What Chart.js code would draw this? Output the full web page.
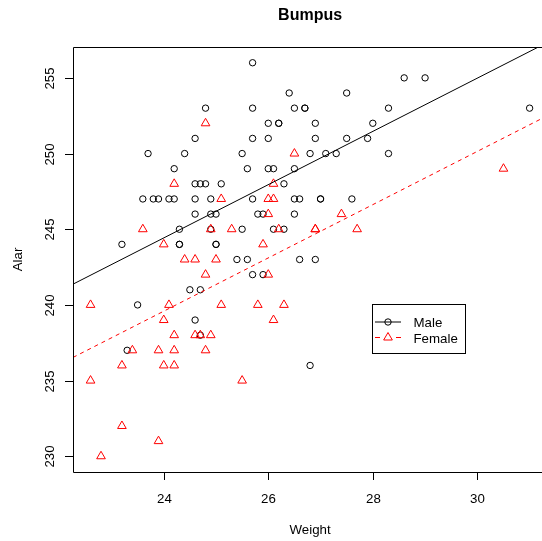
<!DOCTYPE html>
<html>
<head>
<meta charset="utf-8">
<script src="https://cdn.jsdelivr.net/npm/chart.js@4.4.1/dist/chart.umd.min.js"></script>
<style>
  html, body { margin: 0; padding: 0; background: #fff; overflow: hidden; }
  #wrap { width: 542px; height: 541px; }
</style>
</head>
<body>
<div id="wrap"><canvas id="myChart" width="542" height="541"></canvas></div>
<script>
'use strict';

// male birds: weight and alar extent
const maleWeight = [25.7, 26.4, 27.5, 28.6, 29.0,
  24.8, 25.7, 26.5, 26.7, 26.7, 28.3, 31.0,
  26.0, 26.2, 26.2, 26.9, 28.0,
  24.6, 25.7, 26.0, 26.9, 27.5, 27.9,
  23.7, 24.4, 25.5, 26.8, 27.1, 27.3, 28.3,
  24.2, 25.6, 26.0, 26.1, 26.5,
  24.6, 24.7, 24.8, 25.1, 26.3,
  23.6, 23.8, 23.9, 24.1, 24.2, 24.6, 24.9, 25.7, 26.5, 26.6, 27.0, 27.0, 27.6,
  24.6, 24.9, 25.0, 25.8, 25.9, 26.5,
  24.3, 24.9, 25.5, 26.1, 26.3,
  23.2, 24.3, 24.3, 25.0, 25.0,
  25.4, 25.6, 26.6, 26.9,
  25.7, 25.9,
  24.5, 24.7,
  23.5, 24.6, 24.7, 23.3, 26.8];
const maleAlar = [256, 254, 254, 255, 255,
  253, 253, 253, 253, 253, 253, 253,
  252, 252, 252, 252, 252,
  251, 251, 251, 251, 251, 251,
  250, 250, 250, 250, 250, 250, 250,
  249, 249, 249, 249, 249,
  248, 248, 248, 248, 248,
  247, 247, 247, 247, 247, 247, 247, 247, 247, 247, 247, 247, 247,
  246, 246, 246, 246, 246, 246,
  245, 245, 245, 245, 245,
  244, 244, 244, 244, 244,
  243, 243, 243, 243,
  242, 242,
  241, 241,
  240, 239, 238, 237, 236];

// female birds
const femaleWeight = [24.8, 26.5, 30.5, 24.2, 26.1,
  25.1, 26.0, 26.1, 26.0, 27.4,
  23.6, 24.9, 25.3, 26.2, 26.9, 26.9, 27.7,
  24.0, 25.9, 24.4, 24.6, 25.0, 24.8, 26.0,
  22.6, 24.1, 25.1, 25.8, 26.3,
  24.0, 26.1,
  24.2, 24.6, 24.7, 24.9,
  23.4, 23.9, 24.2, 24.8,
  23.2, 24.0, 24.2,
  22.6, 25.5, 23.2, 23.9, 22.8];
const femaleAlar = [252, 250, 249, 248, 248,
  247, 247, 247, 246, 246,
  245, 245, 245, 245, 245, 245, 245,
  244, 244, 243, 243, 243, 242, 242,
  240, 240, 240, 240, 240,
  239, 239,
  238, 238, 238, 238,
  237, 237, 237, 237,
  236, 236, 236,
  235, 235, 232, 231, 230];

// fitted lines (end points at the visible plot edges)
const fitWeight = [22.264, 31.237];
const maleFit = [241.37, 257.16];
const femaleFit = [236.53, 252.32];

const xTicks = [24, 26, 28, 30];
const yTicks = [230, 235, 240, 245, 250, 255];
// the plot region runs a little past the right edge of the picture
const xRange = [22.264, 31.237];
const xCentre = 26.8;
const yRange = [228.96, 257.04];

const seriesNames = ['Male', 'Female'];
const chartTitle = 'Bumpus';
const xTitle = 'Weight';
const yTitle = 'Alar';

const FONT = '"Liberation Sans", Arial, Helvetica, sans-serif';

function toPoints(xs, ys) {
  let pts = [];
  for (let i = 0; i < xs.length; i++) {
    pts.push({ x: xs[i], y: ys[i] });
  }
  return pts;
}

function drawMarker(ctx, style, x, y, color) {
  ctx.save();
  ctx.setLineDash([]);
  ctx.strokeStyle = color;
  ctx.lineWidth = 1;
  ctx.beginPath();
  if (style === 'circle') {
    ctx.arc(x, y, 3.2, 0, Math.PI * 2);
  } else {
    const r = 5;
    ctx.moveTo(x, y - r);
    ctx.lineTo(x + r * 0.866, y + r / 2);
    ctx.lineTo(x - r * 0.866, y + r / 2);
    ctx.closePath();
  }
  ctx.stroke();
  ctx.restore();
}

// frame, axes, labels and legend in the R base-graphics look
const rLook = {
  id: 'rLook',
  afterDraw(chart) {
    const ctx = chart.ctx;
    const a = chart.chartArea;
    const xs = chart.scales.x;
    const ys = chart.scales.y;
    ctx.save();
    ctx.strokeStyle = '#000';
    ctx.fillStyle = '#000';
    ctx.lineWidth = 1;

    // box (right side falls outside the picture)
    ctx.beginPath();
    ctx.moveTo(chart.width + 5, Math.round(a.top) + 0.5);
    ctx.lineTo(Math.round(a.left) + 0.5, Math.round(a.top) + 0.5);
    ctx.lineTo(Math.round(a.left) + 0.5, Math.round(a.bottom) + 0.5);
    ctx.lineTo(chart.width + 5, Math.round(a.bottom) + 0.5);
    ctx.stroke();

    // x axis
    ctx.font = '13.3px ' + FONT;
    ctx.textAlign = 'center';
    ctx.textBaseline = 'alphabetic';
    for (let i = 0; i < xTicks.length; i++) {
      const px = Math.round(xs.getPixelForValue(xTicks[i])) + 0.5;
      ctx.beginPath();
      ctx.moveTo(px, a.bottom);
      ctx.lineTo(px, a.bottom + 8);
      ctx.stroke();
      ctx.fillText(String(xTicks[i]), px, 503);
    }

    // y axis, labels parallel to the axis
    for (let i = 0; i < yTicks.length; i++) {
      const py = Math.round(ys.getPixelForValue(yTicks[i])) + 0.5;
      ctx.beginPath();
      ctx.moveTo(a.left, py);
      ctx.lineTo(a.left - 8, py);
      ctx.stroke();
      ctx.save();
      ctx.translate(54, py);
      ctx.rotate(-Math.PI / 2);
      ctx.fillText(String(yTicks[i]), 0, 0);
      ctx.restore();
    }

    const midX = xs.getPixelForValue(xCentre);
    const midY = (a.top + a.bottom) / 2;
    ctx.fillText(xTitle, midX, 534);
    ctx.save();
    ctx.translate(22, midY);
    ctx.rotate(-Math.PI / 2);
    ctx.fillText(yTitle, 0, 0);
    ctx.restore();

    ctx.font = 'bold 16px ' + FONT;
    ctx.fillText(chartTitle, midX, 20);

    // legend
    ctx.fillStyle = '#fff';
    ctx.fillRect(372.5, 304.5, 93, 49);
    ctx.strokeStyle = '#000';
    ctx.strokeRect(372.5, 304.5, 93, 49);
    const rows = [
      { y: 322, color: '#000', dash: [], style: 'circle' },
      { y: 337.5, color: '#ff0000', dash: [5, 16], style: 'triangle' }
    ];
    ctx.font = '13.3px ' + FONT;
    ctx.textAlign = 'left';
    for (let i = 0; i < rows.length; i++) {
      const r = rows[i];
      ctx.strokeStyle = r.color;
      ctx.setLineDash(r.dash);
      ctx.beginPath();
      ctx.moveTo(375, r.y);
      ctx.lineTo(401, r.y);
      ctx.stroke();
      ctx.setLineDash([]);
      drawMarker(ctx, r.style, 388, r.y, r.color);
      ctx.fillStyle = '#000';
      ctx.fillText(seriesNames[i], 413.5, r.y + 5);
    }
    ctx.restore();
  }
};

const ctx = document.getElementById('myChart');

new Chart(ctx, {
  type: 'scatter',
  data: {
    datasets: [{
      type: 'line',
      label: 'Male fit',
      data: toPoints(fitWeight, maleFit),
      borderColor: '#000',
      borderWidth: 1,
      pointRadius: 0,
      order: 0
    }, {
      type: 'line',
      label: 'Female fit',
      data: toPoints(fitWeight, femaleFit),
      borderColor: '#ff0000',
      borderWidth: 1,
      borderDash: [4, 4],
      pointRadius: 0,
      order: 0
    }, {
      label: seriesNames[0],
      data: toPoints(maleWeight, maleAlar),
      pointStyle: 'circle',
      pointRadius: 3.2,
      borderColor: '#000',
      backgroundColor: 'rgba(0,0,0,0)',
      borderWidth: 1,
      order: 2
    }, {
      label: seriesNames[1],
      data: toPoints(femaleWeight, femaleAlar),
      pointStyle: 'triangle',
      pointRadius: 5,
      borderColor: '#ff0000',
      backgroundColor: 'rgba(0,0,0,0)',
      borderWidth: 1,
      order: 1
    }]
  },
  options: {
    responsive: false,
    maintainAspectRatio: false,
    animation: false,
    devicePixelRatio: 1,
    layout: { autoPadding: false, padding: { left: 73, top: 47, right: 0, bottom: 69 } },
    plugins: {
      legend: { display: false },
      tooltip: { enabled: false }
    },
    scales: {
      x: { type: 'linear', min: xRange[0], max: xRange[1], display: false },
      y: { type: 'linear', min: yRange[0], max: yRange[1], display: false }
    }
  },
  plugins: [rLook]
});
</script>
</body>
</html>
